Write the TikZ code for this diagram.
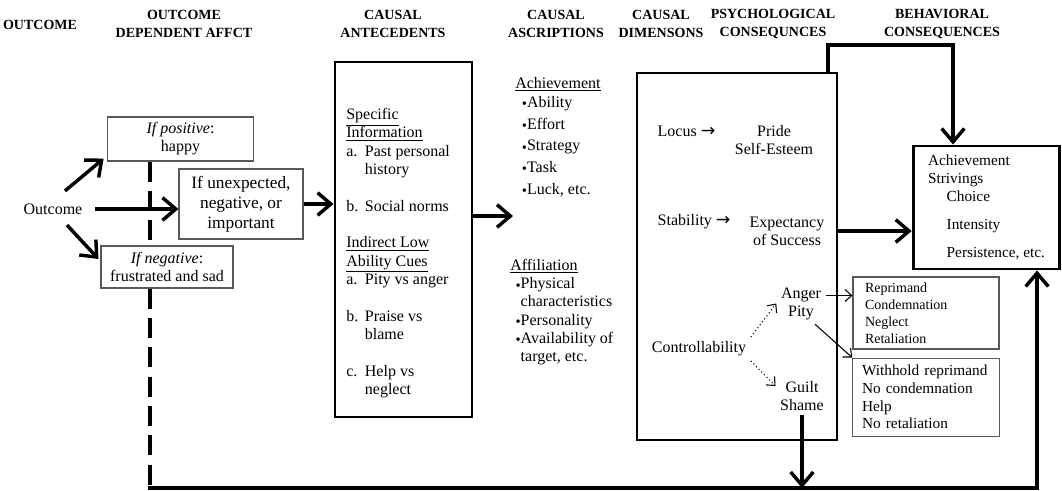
\documentclass[tikz,border=0pt]{standalone}
\usepackage{fontspec}
\setmainfont{Liberation Serif}
\newfontfamily\arrowfont{DejaVu Sans}
\usepackage{tikz}
\usetikzlibrary{positioning, arrows.meta}
\tikzset{
  head/.style={font=\fontsize{10.5}{13.5}\selectfont\bfseries, align=center},
  bigbox/.style={rectangle, draw=black, line width=2.2pt, fill=white},
  thinbox/.style={rectangle, draw=black!65, line width=0.8pt, fill=white, align=center},
  bigarrow/.style={line width=2.6pt, -{Straight Barb[length=10pt,width=17pt]}},
  thinarrow/.style={line width=0.8pt, -{Straight Barb[length=5pt,width=9pt]}},
  dotarrow/.style={thinarrow, dotted},
  feedback/.style={line width=2.6pt, dash pattern=on 15pt off 7pt}
}
\newcommand{\ascdot}{\raisebox{-1pt}{\fontsize{11}{11}\selectfont\textbullet}}
\newcommand{\rarr}{{\arrowfont\fontsize{13}{13}\selectfont →}}

\begin{document}
\begin{tikzpicture}[x=0.75pt, y=-0.75pt, every node/.style={font=\fontsize{12}{13.5}\selectfont, align=center}]
    \useasboundingbox (0,0) rectangle (1062,490);

    % Titulos
    \node[head] (houtcome) at (40,25) {OUTCOME};
    \node[head] (haffect) at (184,24) {OUTCOME\\DEPENDENT AFFCT};
    \node[head] (hante) at (393,24) {CAUSAL\\ANTECEDENTS};
    \node[head] (hascr) at (556,24) {CAUSAL\\ASCRIPTIONS};
    \node[head] (hdim) at (661,24) {CAUSAL\\DIMENSONS};
    \node[head] (hpsych) at (773,24) {PSYCHOLOGICAL\\CONSEQUNCES};
    \node[head] (hbehav) at (942,24) {BEHAVIORAL\\CONSEQUENCES};

    % Outcome and affect
    \node (outcome) at (53,209) {Outcome};
    \node[thinbox, minimum width=110pt, minimum height=33pt, inner ysep=1pt] (positive) at (180.5,139)
    {\textit{If positive}:\\happy};
    \node[thinbox, minimum width=93pt, minimum height=52.5pt, font=\fontsize{13}{15}\selectfont] (unexpected) at (241,204)
    {If unexpected,\\negative, or\\important};
    \node[thinbox, minimum width=99pt, minimum height=31.5pt, inner ysep=1pt] (negative) at (167,267)
    {\textit{If negative}:\\frustrated and sad};

    % Antecedents
    \node[bigbox, minimum width=102.75pt, minimum height=266.25pt] (ante) at (403.5,239.5) {};
    \node[anchor=north west, inner sep=0pt, align=left, font=\fontsize{12}{13.75}\selectfont] (antetext) at (346,108)
    {\underline{Specific}\\
     \underline{Information}\\
     \makebox[14pt][l]{a.}Past personal\\
     \hspace*{14pt}history\\[13.75pt]
     \makebox[14pt][l]{b.}Social norms\\[13.75pt]
     \underline{Indirect Low}\\
     \underline{Ability Cues}\\
     \makebox[14pt][l]{a.}Pity vs anger\\[13.75pt]
     \makebox[14pt][l]{b.}Praise vs\\
     \hspace*{14pt}blame\\[13.75pt]
     \makebox[14pt][l]{c.}Help vs\\
     \hspace*{14pt}neglect};

    % Ascriptions
    \node[anchor=north west, inner sep=0pt, align=left, font=\fontsize{12}{16.3}\selectfont] (achieve) at (515,77)
    {\underline{Achievement}\\[-2pt]
     \hspace*{5pt}\ascdot Ability\\
     \hspace*{5pt}\ascdot Effort\\
     \hspace*{5pt}\ascdot Strategy\\
     \hspace*{5pt}\ascdot Task\\
     \hspace*{5pt}\ascdot Luck, etc.};
    \node[anchor=north west, inner sep=0pt, align=left, font=\fontsize{12}{13.65}\selectfont] (affil) at (510,259)
    {\underline{Affiliation}\\
     \hspace*{4pt}\ascdot Physical\\
     \hspace*{4pt}\phantom{\ascdot}characteristics\\
     \hspace*{4pt}\ascdot Personality\\
     \hspace*{4pt}\ascdot Availability of\\
     \hspace*{4pt}\phantom{\ascdot}target, etc.};

    % Dimensions
    \node[bigbox, minimum width=150pt, minimum height=275.25pt] (dims) at (737,256.5) {};
    \node[anchor=west] (locus) at (653,131) {Locus \rarr};
    \node (pride) at (774,140) {Pride\\Self-Esteem};
    \node[anchor=west] (stability) at (653,222) {Stability \rarr};
    \node (expect) at (787,231) {Expectancy\\of Success};
    \node (ctrl) at (699,349) {Controllability};
    \node (anger) at (801,303.5) {Anger\\Pity};
    \node (guilt) at (802,396) {Guilt\\Shame};

    % Behavior
    \node[bigbox, minimum width=110pt, minimum height=92.25pt, align=left, font=\fontsize{11.5}{13.5}\selectfont] (strive) at (986.5,207.5)
    {Achievement\\Strivings\\\hspace*{14pt}Choice\\[7.5pt]\hspace*{14pt}Intensity\\[7.5pt]\hspace*{14pt}Persistence, etc.};
    \node[thinbox, align=left, text width=91.5pt, inner xsep=9pt, inner ysep=2pt, minimum height=54pt, font=\fontsize{10.5}{12.75}\selectfont] (reprimand) at (926,313)
    {Reprimand\\Condemnation\\Neglect\\Retaliation};
    \node[thinbox, align=left, text width=96pt, inner xsep=7pt, minimum height=58.5pt, below=6pt of reprimand, font=\fontsize{11.5}{13.3}\selectfont] (withhold)
    {Withhold reprimand\\No condemnation\\Help\\No retaliation};

    \coordinate (fbcorner) at (150,488);
    \coordinate (fbright) at (1037,488);
    \coordinate (toploop) at (828,45);
    \coordinate (topright) at (953,45);
    \coordinate (ascr) at (513,216);

    % Flechas
    \draw [bigarrow] ([shift={(12,-8)}]outcome.north) -- ([shift={(-3,-3)}]positive.south west);
    \draw [bigarrow, shorten <=6pt] (outcome.east) -- (outcome.east -| unexpected.west);
    \draw [bigarrow] ([shift={(14,6)}]outcome.south) -- ([shift={(-2,-8)}]negative.west);
    \draw [bigarrow] (unexpected.east) -- (unexpected.east -| ante.west);
    \draw [bigarrow] (ascr -| ante.east) -- (ascr);
    \draw [bigarrow] (toploop |- dims.north) -- (toploop) -- (topright) -- (topright |- strive.north);
    \draw [bigarrow] (dims.east |- expect) -- (strive.west |- expect);
    \draw [dotarrow] (ctrl.north east) -- (anger.west);
    \draw [dotarrow] (ctrl.south east) -- ([shift={(0,-10)}]guilt.west);
    \draw [thinarrow] ([yshift=6pt]anger.east) -- ([yshift=6pt]anger.east -| reprimand.west);
    \draw [thinarrow] ([xshift=-8pt]anger.south east) -- (withhold.north west);

    % Retroalimentacion
    \draw [feedback] (positive.south -| fbcorner) -- (negative.north -| fbcorner);
    \draw [feedback] (negative.south -| fbcorner) -- (fbcorner);
    \draw [bigarrow] ([xshift=-1.3pt]fbcorner) -| (strive.south -| fbright);
    \draw [bigarrow] (guilt.south) -- (guilt.south |- fbcorner);

\end{tikzpicture}
\end{document}
